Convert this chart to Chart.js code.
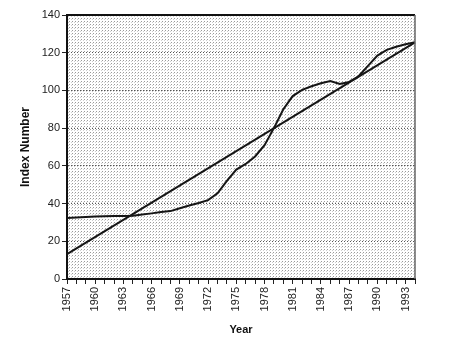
<!DOCTYPE html>
<html lang="en">
<head>
    <meta charset="UTF-8">
    <title>Index Number</title>
    <script src="https://cdn.jsdelivr.net/npm/chart.js"></script>
    <style>
        html, body { margin: 0; padding: 0; background: #fff; }
        #graph { display: block; }
    </style>
</head>
<body>
    <canvas id="graph" width="455" height="346"></canvas>

    <script>
        // Years on the x axis, one category per year
        const years = [
            1957, 1958, 1959, 1960, 1961, 1962, 1963, 1964, 1965, 1966,
            1967, 1968, 1969, 1970, 1971, 1972, 1973, 1974, 1975, 1976,
            1977, 1978, 1979, 1980, 1981, 1982, 1983, 1984, 1985, 1986,
            1987, 1988, 1989, 1990, 1991, 1992, 1993, 1994
        ];

        // Index values per year
        const indexValues = [
            32.3, 32.6, 32.9, 33.2, 33.3, 33.4, 33.4, 33.6, 34.2, 34.8,
            35.5, 36.0, 37.5, 39.0, 40.3, 41.8, 45.4, 52.0, 58.0, 61.0,
            65.0, 71.0, 80.0, 90.0, 97.0, 100.3, 102.2, 103.8, 105.0, 103.4,
            104.5, 107.5, 113.0, 118.5, 121.5, 123.2, 124.5, 125.5
        ];

        // Straight trend line: only its two end points are given
        const trendValues = years.map(() => null);
        trendValues[0] = 13.2;
        trendValues[years.length - 1] = 125.5;

        // Every third year gets a label
        const labelStep = 3;

        // Fine dot screen behind the plot
        function makeDotPattern(ctx) {
            const tile = document.createElement('canvas');
            tile.width = 3;
            tile.height = 3;
            const t = tile.getContext('2d');
            t.fillStyle = '#ffffff';
            t.fillRect(0, 0, 3, 3);
            t.fillStyle = '#9a9a9a';
            t.fillRect(0, 0, 1, 1);
            t.fillStyle = '#cfcfcf';
            t.fillRect(2, 1, 1, 1);
            return ctx.createPattern(tile, 'repeat');
        }

        const plotFrame = {
            id: 'plotFrame',
            beforeDraw(chart) {
                const {ctx, chartArea: a} = chart;
                ctx.save();
                ctx.fillStyle = makeDotPattern(ctx);
                ctx.fillRect(a.left, a.top, a.right - a.left, a.bottom - a.top);
                ctx.restore();
            },
            afterDatasetsDraw(chart) {
                const {ctx, chartArea: a} = chart;
                ctx.save();
                ctx.strokeStyle = '#111';
                ctx.lineWidth = 2;
                ctx.beginPath();
                ctx.moveTo(a.left, a.top);
                ctx.lineTo(a.right, a.top);
                ctx.stroke();
                ctx.strokeStyle = '#666';
                ctx.lineWidth = 1.5;
                ctx.beginPath();
                ctx.moveTo(a.right, a.top);
                ctx.lineTo(a.right, a.bottom);
                ctx.stroke();
                ctx.restore();
            }
        };

        const ctx = document.getElementById('graph').getContext('2d');
        new Chart(ctx, {
            type: 'line',
            data: {
                labels: years,
                datasets: [{
                    label: 'Index',
                    data: indexValues,
                    borderColor: '#151515',
                    borderWidth: 2,
                    pointRadius: 0,
                    tension: 0,
                    fill: false
                }, {
                    label: 'Trend',
                    data: trendValues,
                    borderColor: '#151515',
                    borderWidth: 2,
                    pointRadius: 0,
                    tension: 0,
                    spanGaps: true,
                    fill: false
                }]
            },
            options: {
                responsive: false,
                animation: false,
                layout: { padding: { left: 0, right: 40, top: 15, bottom: 0 } },
                plugins: {
                    legend: { display: false },
                    tooltip: { enabled: false }
                },
                scales: {
                    x: {
                        offset: false,
                        afterFit: (scale) => { scale.height = 67; },
                        title: {
                            display: true,
                            text: 'Year',
                            color: '#111',
                            font: { family: 'Liberation Sans', size: 11, weight: 'bold' },
                            padding: { top: 0, bottom: 9 }
                        },
                        ticks: {
                            autoSkip: false,
                            minRotation: 90,
                            maxRotation: 90,
                            padding: 3,
                            color: '#222',
                            font: { family: 'Liberation Sans', size: 11 },
                            callback(value, index) {
                                return index % labelStep === 0 ? String(years[index]) : '';
                            }
                        },
                        grid: {
                            drawOnChartArea: false,
                            drawTicks: true,
                            tickLength: 5,
                            tickColor: '#222',
                            color: '#222'
                        },
                        border: { color: '#111', width: 2 }
                    },
                    y: {
                        min: 0,
                        max: 140,
                        afterFit: (scale) => { scale.width = 67; },
                        title: {
                            display: true,
                            text: 'Index Number',
                            color: '#111',
                            font: { family: 'Liberation Sans', size: 12, weight: 'bold' },
                            padding: { top: 18, bottom: 0 }
                        },
                        ticks: {
                            stepSize: 20,
                            padding: 2,
                            color: '#222',
                            font: { family: 'Liberation Sans', size: 11 }
                        },
                        grid: {
                            color: '#555',
                            lineWidth: 1,
                            tickLength: 5,
                            tickColor: '#222',
                            tickBorderDash: []
                        },
                        border: { color: '#111', width: 2, dash: [1, 2] }
                    }
                }
            },
            plugins: [plotFrame]
        });
    </script>
</body>
</html>
